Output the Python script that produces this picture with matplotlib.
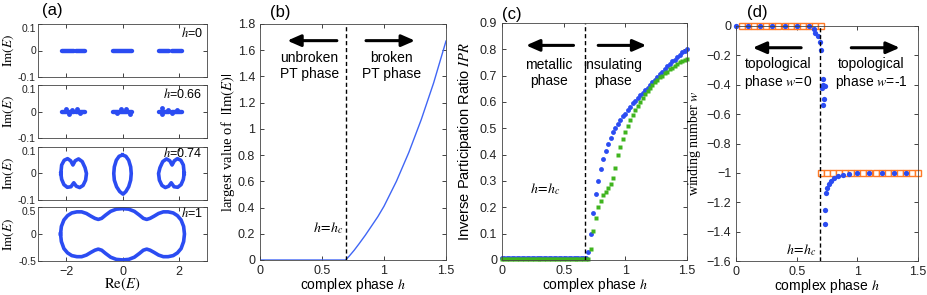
import numpy as np
import matplotlib
matplotlib.use('Agg')
import matplotlib.pyplot as plt

plt.rcParams['font.family'] = ['Liberation Sans', 'DejaVu Sans']
plt.rcParams['mathtext.fontset'] = 'stix'

# ---------------- data ----------------
# (a) spectra in the complex plane
bands_h0 = [(-2.15, -1.72), (-1.64, -1.33), (-0.33, 0.32), (1.31, 1.66), (1.74, 2.13)]
bumps66_re = [-2.02, -1.9, -1.78, -1.62, -1.5, -0.2, -0.05, 0.12, 0.25, 1.4, 1.42, 1.6, 1.75, 1.95]
bumps66_im = [0.008, -0.009, 0.006, 0.008, -0.007, -0.006, 0.008, 0.01, -0.008, 0.012, -0.01, 0.006, -0.007, 0.006]

left74_re = [-2.19, -2.16, -2.07, -1.95, -1.84, -1.76, -1.68, -1.56, -1.43, -1.33, -1.28,
             -1.31, -1.4, -1.52, -1.64, -1.73, -1.83, -1.96, -2.08, -2.16, -2.19]
left74_im = [0.0, 0.032, 0.05, 0.056, 0.048, 0.032, 0.048, 0.055, 0.045, 0.022, 0.0,
             -0.025, -0.045, -0.053, -0.048, -0.035, -0.05, -0.052, -0.042, -0.022, 0.0]
mid74_re = [0.0, 0.12, 0.22, 0.29, 0.31, 0.29, 0.22, 0.12, 0.02, -0.1, -0.21, -0.29, -0.31, -0.29, -0.22, -0.12, 0.0]
mid74_im = [0.07, 0.065, 0.05, 0.025, 0.0, -0.025, -0.05, -0.068, -0.078, -0.068, -0.05, -0.025, 0.0, 0.025, 0.05, 0.065, 0.07]
right74_re = [2.19, 2.16, 2.07, 1.95, 1.84, 1.76, 1.68, 1.56, 1.43, 1.33, 1.28,
              1.31, 1.4, 1.52, 1.64, 1.73, 1.83, 1.96, 2.08, 2.16, 2.19]
right74_im = [0.0, 0.032, 0.05, 0.056, 0.048, 0.032, 0.048, 0.055, 0.045, 0.022, 0.0,
              -0.025, -0.045, -0.053, -0.048, -0.035, -0.05, -0.052, -0.042, -0.022, 0.0]

loop1_re = [-2.2, -2.17, -2.08, -1.95, -1.8, -1.62, -1.45, -1.28, -1.12, -0.98, -0.86, -0.74, -0.6,
            -0.42, -0.22, 0.0, 0.22, 0.42, 0.6, 0.74, 0.86, 0.98, 1.12, 1.28, 1.45, 1.62, 1.8, 1.95,
            2.08, 2.17, 2.2,
            2.17, 2.08, 1.95, 1.8, 1.62, 1.45, 1.28, 1.12, 0.98, 0.86, 0.74, 0.6, 0.42, 0.22, 0.0,
            -0.22, -0.42, -0.6, -0.74, -0.86, -0.98, -1.12, -1.28, -1.45, -1.62, -1.8, -1.95, -2.08,
            -2.17, -2.2]
loop1_im = [0.0, 0.14, 0.26, 0.34, 0.39, 0.41, 0.41, 0.38, 0.33, 0.29, 0.27, 0.29, 0.35,
            0.42, 0.46, 0.47, 0.46, 0.42, 0.35, 0.29, 0.27, 0.29, 0.33, 0.38, 0.41, 0.41, 0.39, 0.34,
            0.26, 0.14, 0.0,
            -0.14, -0.27, -0.35, -0.4, -0.42, -0.42, -0.39, -0.34, -0.3, -0.28, -0.3, -0.36, -0.43,
            -0.47, -0.48, -0.47, -0.43, -0.36, -0.3, -0.28, -0.3, -0.34, -0.39, -0.42, -0.42, -0.4,
            -0.35, -0.27, -0.14, 0.0]

# (b) largest |Im(E)|
b_h = [0.0, 0.69, 0.72, 0.76, 0.80, 0.85, 0.90, 0.95, 1.0, 1.1, 1.2, 1.3, 1.4, 1.5]
b_im = [0.0, 0.0, 0.03, 0.075, 0.125, 0.19, 0.26, 0.33, 0.41, 0.60, 0.82, 1.07, 1.35, 1.67]

# (c) inverse participation ratio, h = 0, 0.02, ..., 1.5
c_h = np.round(np.arange(0, 1.501, 0.02), 2)
ipr_blue = [0.006, 0.006, 0.006, 0.006, 0.006, 0.006, 0.006, 0.006, 0.006, 0.006,
            0.006, 0.006, 0.006, 0.006, 0.006, 0.006, 0.006, 0.006, 0.006, 0.006,
            0.006, 0.006, 0.006, 0.006, 0.006, 0.006, 0.006, 0.006, 0.006, 0.006,
            0.006, 0.006, 0.006, 0.006, 0.007,
            0.03, 0.10, 0.18, 0.25, 0.30, 0.345, 0.385, 0.415, 0.44, 0.465, 0.485,
            0.50, 0.515, 0.53, 0.545, 0.555, 0.57, 0.58, 0.595, 0.605, 0.615, 0.625,
            0.635, 0.645, 0.655, 0.665, 0.675, 0.685, 0.695, 0.705, 0.715, 0.725,
            0.735, 0.745, 0.755, 0.76, 0.77, 0.78, 0.788, 0.795, 0.803]
ipr_green = [0.002, 0.002, 0.002, 0.002, 0.002, 0.002, 0.002, 0.002, 0.002, 0.002,
             0.002, 0.002, 0.002, 0.002, 0.002, 0.002, 0.002, 0.002, 0.002, 0.002,
             0.002, 0.002, 0.002, 0.002, 0.002, 0.002, 0.002, 0.002, 0.002, 0.002,
             0.002, 0.002, 0.002, 0.002, 0.002,
             0.005, 0.04, 0.11, 0.16, 0.20, 0.225, 0.245, 0.26, 0.275, 0.29, 0.31,
             0.35, 0.40, 0.43, 0.46, 0.485, 0.51, 0.53, 0.55, 0.57, 0.585, 0.60,
             0.615, 0.63, 0.64, 0.655, 0.665, 0.675, 0.685, 0.695, 0.70, 0.71,
             0.715, 0.725, 0.73, 0.735, 0.745, 0.75, 0.755, 0.76, 0.765]

# (d) winding number
d_blue_h = [0, 0.1, 0.2, 0.3, 0.4, 0.5, 0.6, 0.64, 0.655, 0.675, 0.69, 0.70, 0.716, 0.72, 0.73,
            0.71, 0.727, 0.716, 0.733, 0.733, 0.744, 0.75, 0.765, 0.785, 0.81, 0.84, 0.88, 0.935,
            1.0, 1.1, 1.2, 1.3, 1.4]
d_blue_w = [0, 0, 0, 0, 0, 0, 0, -0.02, -0.045, -0.07, -0.11, -0.165, -0.36, -0.40, -0.41,
            -0.42, -0.50, -0.54, -1.25, -1.35, -1.135, -1.10, -1.075, -1.055, -1.035, -1.02,
            -1.012, -1.005, -1.0, -1.0, -1.0, -1.0, -1.0]
d_sq_h = [0.05, 0.1, 0.15, 0.2, 0.25, 0.3, 0.35, 0.4, 0.45, 0.5, 0.55, 0.6, 0.65, 0.7,
          0.7, 0.75, 0.8, 0.85, 0.9, 0.95, 1.0, 1.05, 1.1, 1.15, 1.2, 1.25, 1.3, 1.35, 1.4,
          1.45, 1.5]
d_sq_w = [0, 0, 0, 0, 0, 0, 0, 0, 0, 0, 0, 0, 0, 0,
          -1, -1, -1, -1, -1, -1, -1, -1, -1, -1, -1, -1, -1, -1, -1, -1, -1]

h_labels = ['0', '0.66', '0.74', '1']
BLUE = '#2b4cf2'
GREEN = '#3fb41e'
ORANGE = '#ff7a26'
W, H = 927, 295

fig = plt.figure(figsize=(W / 100, H / 100), dpi=100)


def px_axes(x0, y0, x1, y1):
    return fig.add_axes([x0 / W, 1 - y1 / H, (x1 - x0) / W, (y1 - y0) / H])


def style(ax, size=9, pad=3.5):
    ax.tick_params(direction='in', top=True, right=True, length=3, width=0.6,
                   labelsize=size, pad=pad, colors='#222222')
    for s in ax.spines.values():
        s.set_linewidth(0.6)
        s.set_color('#444444')


def arrow(ax, x0, x1, y):
    ax.annotate('', xy=(x1, y), xytext=(x0, y),
                arrowprops=dict(arrowstyle='-|>,head_length=0.8,head_width=0.35',
                                lw=2.2, color='k', mutation_scale=10, shrinkA=0, shrinkB=0))


# ---------------- (a) ----------------
rows = [(24, 77), (85, 138), (147, 200), (207, 261)]
axa = [px_axes(38, r0, 207, r1) for r0, r1 in rows]
for i, ax in enumerate(axa):
    style(ax, size=7.5, pad=1.5)
    ax.set_xlim(-3, 3)
    ax.set_xticks([-2, 0, 2])
    if i < 3:
        ax.set_ylim(-0.1, 0.1)
        ax.set_yticks([-0.1, 0, 0.1])
        ax.set_yticklabels(['-0.1', '0', '0.1'])
        ax.set_xticklabels([])
    else:
        ax.set_ylim(-0.5, 0.5)
        ax.set_yticks([-0.5, 0, 0.5])
        ax.set_yticklabels(['-0.5', '0', '0.5'])
        ax.set_xticklabels(['\u22122', '0', '2'])
        ax.tick_params(axis='x', pad=3.5, labelsize=9)
    ax.set_ylabel(r'$\mathrm{Im}(E)$', fontsize=9.5)
    ax.yaxis.set_label_coords(-0.128, 0.5)
    ax.text(0.975, 0.83 if i < 2 else 0.88, r'$h$=' + h_labels[i], transform=ax.transAxes,
            ha='right', va='center', fontsize=9)

for lo, hi in bands_h0:
    axa[0].plot([lo, hi], [0, 0], color=BLUE, lw=3.2, solid_capstyle='round')
    axa[1].plot([lo, hi], [0, 0], color=BLUE, lw=3.2, solid_capstyle='round')
axa[1].plot(bumps66_re, bumps66_im, 'o', color=BLUE, ms=3.5, mec='none')
axa[2].plot(left74_re, left74_im, color=BLUE, lw=2.6)
axa[2].plot(mid74_re, mid74_im, color=BLUE, lw=2.6)
axa[2].plot(right74_re, right74_im, color=BLUE, lw=2.6)
axa[3].plot(loop1_re, loop1_im, color=BLUE, lw=2.6)
axa[3].set_xlabel(r'$\mathrm{Re}(E)$', fontsize=10.5)
axa[3].xaxis.set_label_coords(0.5, -0.28)

# ---------------- (b) ----------------
axb = px_axes(260, 24, 446, 260)
style(axb)
axb.plot(b_h, b_im, color='#4066f5', lw=1.0)
axb.set_xlim(0, 1.5)
axb.set_ylim(0, 1.8)
axb.set_xticks([0, 0.5, 1, 1.5])
axb.set_xticklabels(['0', '0.5', '1', '1.5'])
axb.set_yticks(np.arange(0, 1.81, 0.2))
axb.set_yticklabels(['0', '0.2', '0.4', '0.6', '0.8', '1', '1.2', '1.4', '1.6', '1.8'])
axb.axvline(0.69, color='k', lw=1.0, ls=(0, (3, 2)))
arrow(axb, 0.62, 0.22, 1.673)
arrow(axb, 0.855, 1.25, 1.673)
axb.text(0.40, 1.48, 'unbroken\nPT phase', ha='center', va='center', fontsize=10, linespacing=1.15)
axb.text(1.06, 1.48, 'broken\nPT phase', ha='center', va='center', fontsize=10, linespacing=1.15)
axb.text(0.67, 0.24, r'$h\!=\!h_c$', ha='right', va='center', fontsize=10)
axb.set_ylabel(r'largest value of  $|\mathrm{Im}(E)|$', family='Liberation Serif', fontsize=10.5)
axb.yaxis.set_label_coords(-0.125, 0.5)

# ---------------- (c) ----------------
axc = px_axes(502, 23, 687, 260)
style(axc)
axc.plot(c_h, ipr_blue, 'o', color=BLUE, ms=3.5, mec='none', clip_on=False)
axc.plot(c_h, ipr_green, 's', color=GREEN, ms=2.8, mec='none', clip_on=False)
axc.set_xlim(0, 1.5)
axc.set_ylim(0, 0.9)
axc.set_xticks([0, 0.5, 1, 1.5])
axc.set_xticklabels(['0', '0.5', '1', '1.5'])
axc.set_yticks(np.arange(0, 0.91, 0.1))
axc.set_yticklabels(['0', '0.1', '0.2', '0.3', '0.4', '0.5', '0.6', '0.7', '0.8', '0.9'])
axc.axvline(0.675, color='k', lw=1.0, ls=(0, (3, 2)))
arrow(axc, 0.58, 0.195, 0.815)
arrow(axc, 0.78, 1.17, 0.815)
axc.text(0.38, 0.71, 'metallic\nphase', ha='center', va='center', fontsize=10, linespacing=1.15)
axc.text(0.90, 0.71, 'insulating\nphase', ha='center', va='center', fontsize=10, linespacing=1.15)
axc.text(0.35, 0.27, r'$h\!=\!h_c$', ha='center', va='center', fontsize=10)
axc.set_ylabel(r'Inverse Participation Ratio $IPR$', fontsize=10.5)
axc.yaxis.set_label_coords(-0.15, 0.5)

# ---------------- (d) ----------------
axd = px_axes(736, 26, 918, 261)
style(axd)
axd.plot(d_sq_h, d_sq_w, 's', mfc='white', mec=ORANGE, mew=1.0, ms=4.0, clip_on=False)
axd.plot(d_blue_h, d_blue_w, 'o', color=BLUE, ms=3.8, mec='none', clip_on=False)
axd.axvline(0.69, color='k', lw=1.0, ls=(0, (3, 2)))
axd.set_xlim(0, 1.5)
axd.set_ylim(-1.6, 0)
axd.set_xticks([0, 0.5, 1, 1.5])
axd.set_xticklabels(['0', '0.5', '1', '1.5'])
axd.set_yticks([-1.6, -1.4, -1.2, -1, -0.8, -0.6, -0.4, -0.2, 0])
axd.set_yticklabels(['\u22121.6', '\u22121.4', '\u22121.2', '\u22121', '\u22120.8', '\u22120.6',
                     '\u22120.4', '\u22120.2', '0'])
arrow(axd, 0.537, 0.138, -0.148)
arrow(axd, 0.95, 1.35, -0.148)
axd.text(0.35, -0.33, 'topological\nphase $w$=0', ha='center', va='center', fontsize=10, linespacing=1.15)
axd.text(1.115, -0.33, 'topological\nphase $w$=-1', ha='center', va='center', fontsize=10, linespacing=1.15)
axd.text(0.66, -1.525, r'$h\!=\!h_c$', ha='right', va='center', fontsize=10)
axd.set_ylabel(r'winding number $w$', family='Liberation Serif', fontsize=10)
axd.yaxis.set_label_coords(-0.18, 0.5)

for ax in (axb, axc, axd):
    ax.set_xlabel(r'complex phase $h$', fontsize=10)
    ax.xaxis.set_label_coords(0.5, -0.066)

# top tick label of each (a) strip hangs below its tick, as in the original
for ax in axa:
    ax.yaxis.get_major_ticks()[-1].label1.set_va('top')

# panel labels
for lab, x, y in [('(a)', 52, 11), ('(b)', 280, 13), ('(c)', 512, 14), ('(d)', 757, 13)]:
    fig.text(x / W, 1 - y / H, lab, ha='center', va='center', fontsize=12)

fig.savefig('out.png', dpi=100)
